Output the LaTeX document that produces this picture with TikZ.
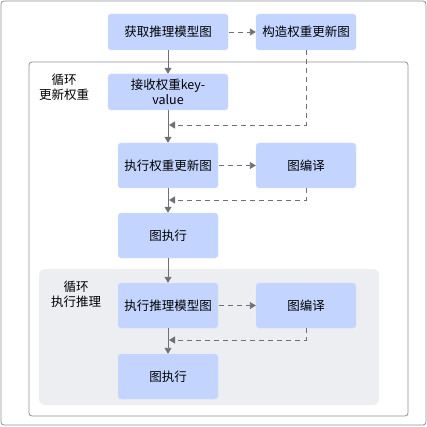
\documentclass[tikz,border=0pt]{standalone}
\usepackage{fontspec}
\setmainfont{Noto Sans CJK SC}
\usepackage{tikz}
\usetikzlibrary{arrows.meta,positioning}
\definecolor{stagefill}{HTML}{C2D4FF}
\definecolor{flowgray}{HTML}{6E7077}
\definecolor{framegray}{HTML}{8E9197}
\definecolor{panelgray}{HTML}{EDEEF2}

\begin{document}
\begin{tikzpicture}[x=1pt,y=-1pt,
  font=\fontsize{12.5}{15}\selectfont, >={Triangle[length=6pt,width=7pt]},
  stage/.style={fill=stagefill,draw=stagefill!70!white,rounded corners=3pt,minimum width=100pt,minimum height=45pt,align=center,inner sep=1pt},
  flow/.style={->,draw=flowgray,line width=0.9pt},
  back/.style={flow,dash pattern=on 5pt off 4pt}]
  \useasboundingbox (0,0) rectangle (427,427);
  % frames
  \draw[framegray,line width=0.8pt,rounded corners=3pt] (1,1) rectangle (426,425);
  \draw[framegray,line width=0.8pt,rounded corners=3pt] (29,62) rectangle (408,416);
  \fill[panelgray,rounded corners=6pt] (39,269) rectangle (379,405);
  \node[align=center] (loopupd) at (64,87) {循环\\更新权重};
  \node[align=center] (loopinf) at (76,294) {循环\\执行推理};
  % stages
  \node[stage,minimum width=120pt,minimum height=36pt] (getgraph) at (168,32) {获取推理模型图};
  \node[stage,minimum height=36pt] (buildgraph) at (306,32) {构造权重更新图};
  \node[stage,minimum width=120pt,minimum height=36pt] (recvkv) at (168,92) {接收权重key-\\value};
  \node[stage] (runupd) at (168,165.5) {执行权重更新图};
  \node[stage] (compupd) at (306,165.5) {图编译};
  \node[stage] (execupd) at (168,235.5) {图执行};
  \node[stage] (runinf) at (168,305.5) {执行推理模型图};
  \node[stage] (compinf) at (306,305.5) {图编译};
  \node[stage] (execinf) at (168,376.5) {图执行};
  \coordinate (joinA) at (169,125);
  \coordinate (joinB) at (169,200);
  \coordinate (joinC) at (169,340);
  % connectors
  \draw[flow] (getgraph) -- (recvkv);
  \draw[back,shorten <=1pt] (getgraph) -- (buildgraph);
  \draw[back] (buildgraph.south) |- (joinA);
  \draw[flow] (recvkv) -- (runupd);
  \draw[back,shorten <=1pt] (runupd) -- (compupd);
  \draw[back] (compupd.south) |- (joinB);
  \draw[flow] (runupd) -- (execupd);
  \draw[flow] (execupd) -- (runinf);
  \draw[back,shorten <=1pt] (runinf) -- (compinf);
  \draw[back] (compinf.south) |- (joinC);
  \draw[flow] (runinf) -- (execinf);
\end{tikzpicture}
\end{document}
